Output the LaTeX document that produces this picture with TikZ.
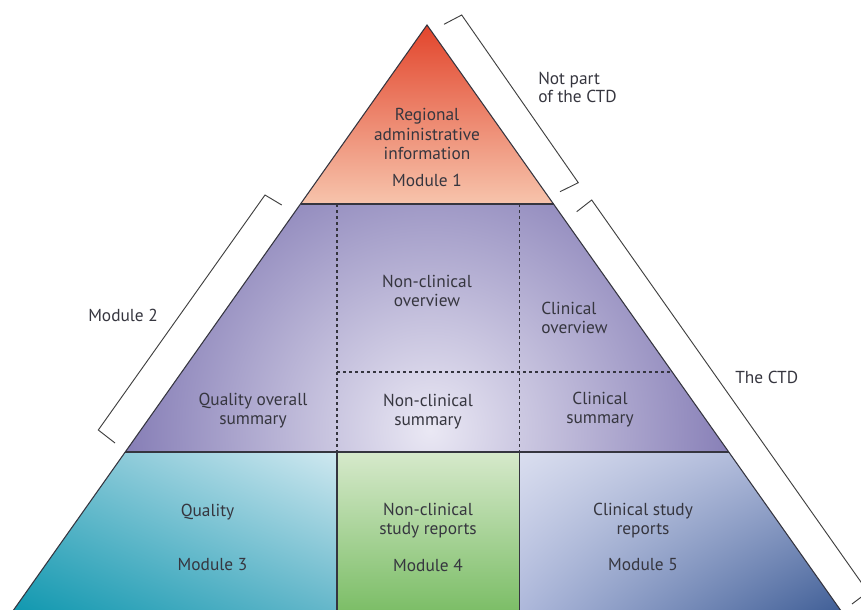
\documentclass[tikz,border=0pt]{standalone}
\usepackage{fontspec}
\setmainfont{PT Sans}
\usetikzlibrary{shadings}
\definecolor{mAtop}{HTML}{E2452C}
\definecolor{mAmid}{HTML}{EE8A6C}
\definecolor{mAbot}{HTML}{F7C4AC}
\definecolor{mBdark}{HTML}{776EAD}
\definecolor{mBlight}{HTML}{EAE8F4}
\definecolor{mCul}{HTML}{6CBCCE}
\definecolor{mCur}{HTML}{CFE8F0}
\definecolor{mCll}{HTML}{0694AC}
\definecolor{mClr}{HTML}{5CB3C7}
\definecolor{mDtop}{HTML}{D6E9CB}
\definecolor{mDbot}{HTML}{74BA5E}
\definecolor{mEul}{HTML}{DADEEF}
\definecolor{mEur}{HTML}{9FACD2}
\definecolor{mEll}{HTML}{AAB5D9}
\definecolor{mElr}{HTML}{34558F}
\definecolor{edgecol}{HTML}{35353F}
\definecolor{txtcol}{HTML}{36363F}
\definecolor{brkcol}{HTML}{404040}
\tikzset{
  edgeline/.style={draw=edgecol, line width=0.8pt},
  dashline/.style={draw=edgecol, line width=0.8pt, dash pattern=on 2.6pt off 1.9pt},
  bracketline/.style={draw=brkcol, line width=0.7pt, line join=miter},
  celltext/.style={text=txtcol, font=\fontsize{13}{14.3}\selectfont, align=center, inner sep=0pt},
  sidetext/.style={text=txtcol, font=\fontsize{13}{13.5}\selectfont, align=left, inner sep=0pt}
}
\begin{document}
\begin{tikzpicture}[x=0.75pt,y=-0.75pt]
\useasboundingbox (0,0) rectangle (861,610);
\clip (0,0) rectangle (861,610);
% key points
\coordinate (A) at (427,25);
\coordinate (L1) at (300.5,204);
\coordinate (R1) at (553.5,204);
\coordinate (L2) at (125.2,452);
\coordinate (R2) at (728.8,452);
\coordinate (L3) at (3,625);
\coordinate (R3) at (851,625);
\coordinate (V1t) at (337,204);
\coordinate (V1m) at (337,452);
\coordinate (V1b) at (337,625);
\coordinate (V2t) at (519.5,204);
\coordinate (V2m) at (519.5,452);
\coordinate (V2b) at (519.5,625);
\coordinate (Hl) at (337,372);
\coordinate (Hr) at (672.2,372);
% Module 1
\shade[top color=mAtop, middle color=mAmid, bottom color=mAbot] (A) -- (R1) -- (L1) -- cycle;
% Module 2
\begin{scope}
  \clip (L1) -- (R1) -- (R2) -- (L2) -- cycle;
  \shade[inner color=mBlight, outer color=mBdark] (430,430) circle (350);
\end{scope}
% Module 3
\shade[upper left=mCul, upper right=mCur, lower left=mCll, lower right=mClr] (L2) -- (V1m) -- (V1b) -- (L3) -- cycle;
% Module 4
\shade[top color=mDtop, bottom color=mDbot] (V1m) -- (V2m) -- (V2b) -- (V1b) -- cycle;
% Module 5
\shade[upper left=mEul, upper right=mEur, lower left=mEll, lower right=mElr] (V2m) -- (R2) -- (R3) -- (V2b) -- cycle;
% lines
\draw[dashline] (V1t) -- (V1m);
\draw[dashline] (V2t) -- (V2m);
\draw[dashline] (Hl) -- (Hr);
\draw[edgeline] (L1) -- (R1);
\draw[edgeline] (L2) -- (R2);
\draw[edgeline] (V1m) -- (V1b);
\draw[edgeline] (V2m) -- (V2b);
\draw[edgeline, line join=miter] (L3) -- (A) -- (R3);
% brackets
\coordinate (Ba1) at (444,24.3);
\coordinate (Ba2) at (461.7,15);
\coordinate (Ba3) at (578.3,182.7);
\coordinate (Ba4) at (560,191.7);
\draw[bracketline] (Ba1) -- (Ba2) -- (Ba3) -- (Ba4);
\coordinate (Bb1) at (281.7,205);
\coordinate (Bb2) at (265,195);
\coordinate (Bb3) at (98.3,430);
\coordinate (Bb4) at (115,443);
\draw[bracketline] (Bb1) -- (Bb2) -- (Bb3) -- (Bb4);
\coordinate (Bc1) at (576.7,211.7);
\coordinate (Bc2) at (591.7,200);
\coordinate (Bc3) at (868,592);
\coordinate (Bc4) at (852,604);
\draw[bracketline] (Bc1) -- (Bc2) -- (Bc3) -- (Bc4);
% texts
\node[celltext] (t1) at (427,134) {Regional\\administrative\\information};
\node[celltext] (t1m) at (427,180) {Module 1};
\node[celltext] (t2a) at (427,291) {Non-clinical\\overview};
\node[celltext, align=left, anchor=west] (t2b) at (541,318) {Clinical\\overview};
\node[celltext] (t2c) at (253,411) {Quality overall\\summary};
\node[celltext] (t2d) at (428,412) {Non-clinical\\summary};
\node[celltext] (t2e) at (600,410) {Clinical\\summary};
\node[celltext] (t3) at (207.5,512) {Quality};
\node[celltext] (t3m) at (212.5,565) {Module 3};
\node[celltext] (t4) at (428,521) {Non-clinical\\study reports};
\node[celltext] (t4m) at (428,565) {Module 4};
\node[celltext] (t5) at (643,521) {Clinical study\\reports};
\node[celltext] (t5m) at (643,565) {Module 5};
\node[sidetext, anchor=west] (s1) at (538,87) {Not part\\of the CTD};
\node[sidetext, anchor=west] (s2) at (88,315) {Module 2};
\node[sidetext, anchor=west] (s3) at (735,377) {The CTD};
\end{tikzpicture}
\end{document}
